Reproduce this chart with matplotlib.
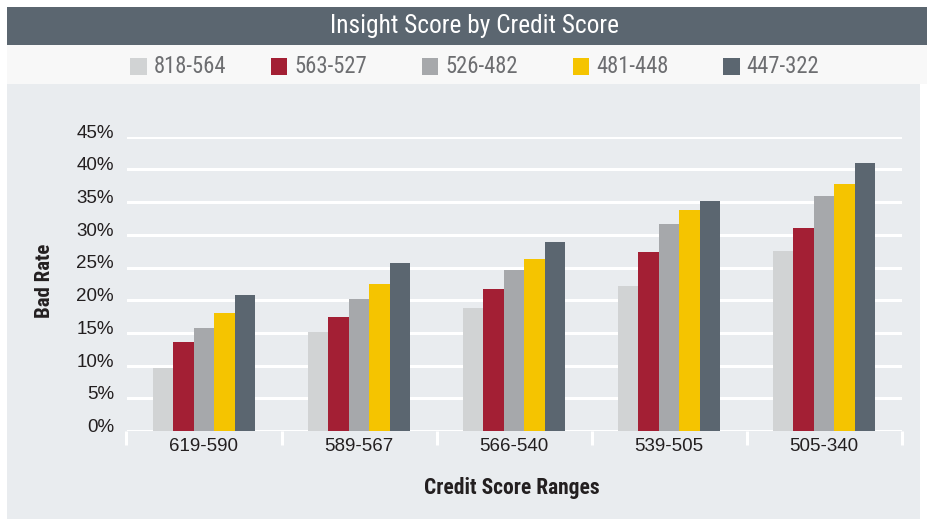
import matplotlib
matplotlib.use("Agg")
import matplotlib.pyplot as plt
import matplotlib.transforms as mtransforms
import numpy as np
from matplotlib import font_manager
from matplotlib.patches import Rectangle
from matplotlib.ticker import FixedLocator, FuncFormatter

# ---------------- data ----------------
categories = ["619-590", "589-567", "566-540", "539-505", "505-340"]
series_names = ["818-564", "563-527", "526-482", "481-448", "447-322"]
s_818_564 = [9.6, 15.1, 18.8, 22.2, 27.5]
s_563_527 = [13.6, 17.4, 21.7, 27.4, 31.0]
s_526_482 = [15.7, 20.2, 24.6, 31.7, 35.9]
s_481_448 = [18.1, 22.5, 26.3, 33.8, 37.8]
s_447_322 = [20.8, 25.7, 28.9, 35.2, 41.0]
series_values = [s_818_564, s_563_527, s_526_482, s_481_448, s_447_322]
y_ticks = [0, 5, 10, 15, 20, 25, 30, 35, 40, 45]

colors = ["#d1d3d4", "#a31f34", "#a6a8ab", "#f5c400", "#5b6670"]

# ---------------- fonts ----------------
avail = {f.name for f in font_manager.fontManager.ttflist}
narrow = None
for cand in ["Liberation Sans Narrow", "Roboto Condensed", "DejaVu Sans Condensed", "Open Sans Condensed"]:
    if cand in avail:
        narrow = cand
        break
narrow_kw = {"family": narrow} if narrow else {"family": "Liberation Sans", "stretch": "condensed"}
regular = "Liberation Sans" if "Liberation Sans" in avail else "DejaVu Sans"

W, H = 927, 521
fig = plt.figure(figsize=(W / 100, H / 100), dpi=100)
fig.patch.set_facecolor("white")

def fx(px):
    return px / W

def fy(py):
    return 1 - py / H

# background panels
fig.add_artist(Rectangle((fx(7), fy(519)), fx(920) - fx(7), fy(84) - fy(519),
                         transform=fig.transFigure, facecolor="#e9ecef", edgecolor="none", zorder=0))
fig.add_artist(Rectangle((fx(7), fy(84)), fx(927) - fx(7), fy(45) - fy(84),
                         transform=fig.transFigure, facecolor="#f8f8f8", edgecolor="none", zorder=0))
fig.add_artist(Rectangle((fx(7), fy(45)), fx(927) - fx(7), fy(7) - fy(45),
                         transform=fig.transFigure, facecolor="#5b6670", edgecolor="none", zorder=0))

# title
fig.text(fx(474), fy(26.5), "Insight Score by Credit Score", color="white",
         fontsize=18.3, ha="center", va="center", **narrow_kw)

# legend (manual)
patch_left = [130, 270.7, 421.7, 572.7, 723.3]
for name, col, px in zip(series_names, colors, patch_left):
    fig.add_artist(Rectangle((fx(px), fy(74.5)), fx(16.5), fy(58) - fy(74.5),
                             transform=fig.transFigure, facecolor=col, edgecolor="none"))
    fig.text(fx(px + 23.5), fy(66.5), name, color="#6d6e71", fontsize=16.3,
             ha="left", va="center", **narrow_kw)

# axes
left, right = 126.5, 901.5
top, bottom = 136.7, 431
ax = fig.add_axes([fx(left), fy(bottom), fx(right) - fx(left), fy(top) - fy(bottom)])
ax.set_facecolor("none")
ax.set_xlim(-0.5, len(categories) - 0.5)
ax.set_ylim(0, 45)

x = np.arange(len(categories))
bw = 0.132
n = len(series_names)
for i, (vals, col) in enumerate(zip(series_values, colors)):
    ax.bar(x + (i - (n - 1) / 2) * bw, vals, width=bw, color=col, edgecolor="none", zorder=3)

ax.yaxis.set_major_locator(FixedLocator(y_ticks))
ax.yaxis.set_major_formatter(FuncFormatter(lambda v, p: f"{int(v)}%"))
ax.grid(axis="y", color="white", linewidth=2.2, zorder=1)
ax.set_axisbelow(True)
for s in ax.spines.values():
    s.set_visible(False)
ax.tick_params(axis="y", length=0, pad=9, labelsize=13.5, labelcolor="#231f20")
shift = mtransforms.ScaledTranslation(0, 5.5 / 100, fig.dpi_scale_trans)
for lab in ax.get_yticklabels():
    lab.set_fontfamily(regular)
    lab.set_transform(lab.get_transform() + shift)

ax.set_xticks(x)
ax.set_xticklabels(categories, fontfamily=regular, fontsize=13.5, color="#231f20")
ax.set_xticks(np.arange(-0.5, len(categories)), minor=True)
ax.tick_params(axis="x", which="major", length=0, pad=5)
ax.tick_params(axis="x", which="minor", length=10, width=2.2, color="white", direction="out")
for t in ax.xaxis.get_minorticklines():
    t.set_clip_on(False)

fig.text(fx(45), fy(281), "Bad Rate", rotation=90, fontsize=15, fontweight="bold",
         color="#231f20", ha="center", va="center", **narrow_kw)
fig.text(fx(512), fy(488), "Credit Score Ranges", fontsize=15.5, fontweight="bold",
         color="#231f20", ha="center", va="center", **narrow_kw)

fig.savefig("out.png", dpi=100, facecolor="white")
